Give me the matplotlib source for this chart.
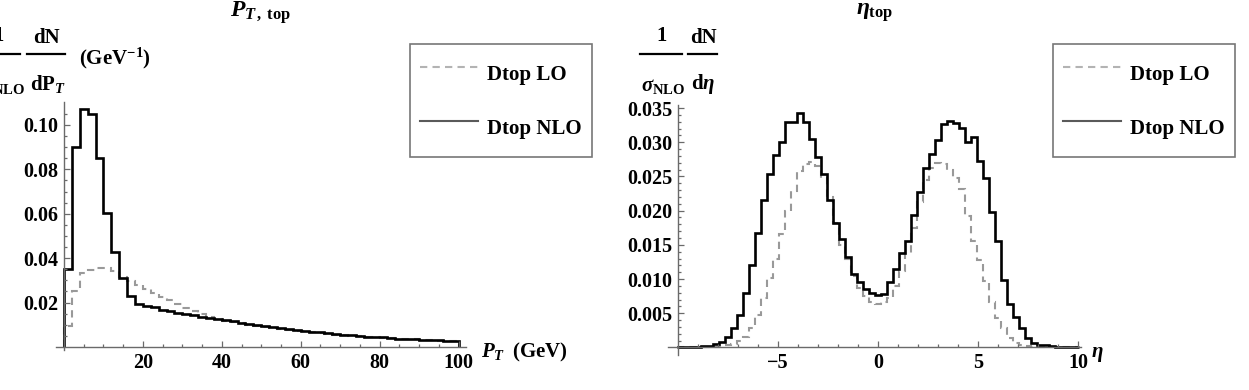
import matplotlib
matplotlib.use('Agg')
import matplotlib.pyplot as plt
import numpy as np
from matplotlib.lines import Line2D
from matplotlib.ticker import FixedLocator

plt.rcParams['font.family'] = ['Liberation Serif', 'DejaVu Serif']
plt.rcParams['font.weight'] = 'bold'
plt.rcParams['mathtext.fontset'] = 'custom'
plt.rcParams['mathtext.rm'] = 'Liberation Serif:bold'
plt.rcParams['mathtext.it'] = 'Liberation Serif:bold:italic'
plt.rcParams['mathtext.bf'] = 'Liberation Serif:bold'

# transverse momentum of the top, 2 GeV bins from 0 to 100 GeV
PT_BIN_WIDTH = 2.0
pt_lo = [0.0095, 0.025, 0.0335, 0.0345, 0.0358, 0.0355, 0.034, 0.0315, 0.0295, 0.028,
         0.026, 0.0245, 0.0225, 0.021, 0.0195, 0.0175, 0.016, 0.0148, 0.0135, 0.0125,
         0.0118, 0.0112, 0.0106, 0.0100, 0.0095, 0.0090, 0.0086, 0.0082, 0.0078, 0.0074,
         0.0070, 0.0066, 0.0063, 0.0060, 0.0056, 0.0053, 0.0050, 0.0048, 0.0045, 0.0043,
         0.0041, 0.0039, 0.0037, 0.0035, 0.0034, 0.0032, 0.0031, 0.0029, 0.0027, 0.0025]
pt_nlo = [0.035, 0.090, 0.107, 0.105, 0.085, 0.0605, 0.043, 0.031, 0.0228, 0.0195,
          0.0185, 0.018, 0.0165, 0.0163, 0.0155, 0.0148, 0.0142, 0.0136, 0.013, 0.0125,
          0.012, 0.0115, 0.011, 0.0105, 0.0098, 0.0094, 0.0090, 0.0086, 0.0080, 0.0076,
          0.0072, 0.0068, 0.0066, 0.0063, 0.0058, 0.0055, 0.0052, 0.0049, 0.0046, 0.0044,
          0.0043, 0.0040, 0.0038, 0.0037, 0.0035, 0.0033, 0.0032, 0.0030, 0.0026, 0.0026]

# pseudorapidity of the top, 0.3 wide bins starting at -10.05
ETA_FIRST_EDGE = -10.05
ETA_BIN_WIDTH = 0.3
eta_lo = [0.0, 0.0, 0.00001, 0.00002, 0.00003, 0.00005, 0.00008, 0.00015, 0.0003, 0.0005,
          0.0009, 0.0016, 0.0028, 0.0048, 0.0072, 0.0101, 0.0130, 0.0166, 0.0199, 0.0228,
          0.0258, 0.0268, 0.0271, 0.0265, 0.0248, 0.0220, 0.0182, 0.0150, 0.0129, 0.0105,
          0.0087, 0.0075, 0.0066, 0.0064, 0.0066, 0.0072, 0.0090, 0.0112, 0.0138, 0.0175,
          0.0212, 0.0245, 0.0262, 0.0270, 0.0268, 0.0260, 0.0248, 0.0232, 0.0192, 0.0155,
          0.0128, 0.0097, 0.0066, 0.0043, 0.0028, 0.0014, 0.0007, 0.0003, 0.00015, 0.0001,
          0.00006, 0.00004, 0.00002, 0.00001, 0.0, 0.0, 0.0]
eta_nlo = [0.00003, 0.00005, 0.00008, 0.00012, 0.00018, 0.00028, 0.00045, 0.0008, 0.0016, 0.0028,
           0.0048, 0.0080, 0.0120, 0.0167, 0.0215, 0.0254, 0.0282, 0.0301, 0.0329, 0.0330,
           0.0343, 0.0330, 0.0305, 0.0278, 0.0254, 0.0216, 0.0182, 0.0158, 0.0132, 0.0107,
           0.0095, 0.0086, 0.0080, 0.0077, 0.0078, 0.0095, 0.0114, 0.0138, 0.0155, 0.0193,
           0.0227, 0.0263, 0.0283, 0.0304, 0.0326, 0.0331, 0.0328, 0.0321, 0.0301, 0.0307,
           0.0273, 0.0248, 0.0198, 0.0156, 0.0099, 0.0064, 0.0044, 0.0028, 0.0014, 0.0007,
           0.0004, 0.0003, 0.0002, 0.00012, 0.00008, 0.00005, 0.00003]

pt_ticks = [20, 40, 60, 80, 100]
pt_tick_labels = ['20', '40', '60', '80', '100']
pt_yticks = [0.02, 0.04, 0.06, 0.08, 0.10]
pt_ytick_labels = ['0.02', '0.04', '0.06', '0.08', '0.10']
eta_ticks = [-5, 0, 5, 10]
eta_tick_labels = ['\u22125', '0', '5', '10']
eta_yticks = [0.005, 0.010, 0.015, 0.020, 0.025, 0.030, 0.035]
eta_ytick_labels = ['0.005', '0.010', '0.015', '0.020', '0.025', '0.030', '0.035']
legend_labels = ['Dtop LO', 'Dtop NLO']

W, H = 1249, 390
fig = plt.figure(figsize=(W / 100, H / 100), dpi=100)


def px_axes(left, top, width, height):
    return fig.add_axes([left / W, 1 - (top + height) / H, width / W, height / H])


def style_axes(ax, x0, y0):
    for side in ['top', 'right']:
        ax.spines[side].set_visible(False)
    ax.spines['left'].set_position(('data', x0))
    ax.spines['bottom'].set_position(('data', y0))
    for side in ['left', 'bottom']:
        ax.spines[side].set_color('#6a6a6a')
        ax.spines[side].set_linewidth(1.0)
    ax.tick_params(which='both', direction='in', color='#6a6a6a', width=0.9,
                   labelsize=14.5, pad=4)
    ax.tick_params(which='major', length=4.5)
    ax.tick_params(which='minor', length=2.2)
    ax.patch.set_visible(False)


def add_legend(ax, left, top):
    handles = [Line2D([], [], color='#b3b3b3', lw=1.5, ls=(0, (3.5, 2.5))),
               Line2D([], [], color='#5a5a5a', lw=1.5)]
    leg = ax.legend(handles, legend_labels, loc='upper left',
                    bbox_to_anchor=(left / W, 1 - top / H), bbox_transform=fig.transFigure,
                    fontsize=15, frameon=True, fancybox=False, borderpad=0.5,
                    handlelength=2.75, handletextpad=0.45, handleheight=2.5,
                    labelspacing=0.7, borderaxespad=0)
    leg.get_frame().set_edgecolor('#555555')
    leg.get_frame().set_linewidth(1.2)


# left panel: P_T
ax1 = px_axes(56.1, 101.9, 410.3, 248.4)
pt_edges = np.arange(len(pt_nlo) + 1) * PT_BIN_WIDTH
ax1.stairs(pt_lo, pt_edges, baseline=0, color='#999999', lw=1.5, ls=(0, (3.5, 2.5)))
ax1.stairs(pt_nlo, pt_edges, baseline=0, color='black', lw=1.9)
ax1.set_xlim(-2, 102)
ax1.set_ylim(-0.0015, 0.1104)
style_axes(ax1, 0, 0)
ax1.xaxis.set_major_locator(FixedLocator(pt_ticks))
ax1.set_xticklabels(pt_tick_labels)
ax1.xaxis.set_minor_locator(FixedLocator(np.arange(5, 100, 5)))
ax1.yaxis.set_major_locator(FixedLocator(pt_yticks))
ax1.set_yticklabels(pt_ytick_labels)
ax1.yaxis.set_minor_locator(FixedLocator(np.arange(0.005, 0.11, 0.005)))
add_legend(ax1, 410, 44)

# right panel: eta
ax2 = px_axes(668, 105.3, 413, 249.7)
eta_edges = ETA_FIRST_EDGE + np.arange(len(eta_nlo) + 1) * ETA_BIN_WIDTH
ax2.stairs(eta_lo, eta_edges, baseline=0, color='#999999', lw=1.5, ls=(0, (3.5, 2.5)))
ax2.stairs(eta_nlo, eta_edges, baseline=0, color='black', lw=1.9)
ax2.set_xlim(-10.5, 10.15)
ax2.set_ylim(-0.0011, 0.0354)
style_axes(ax2, -10, 0)
ax2.xaxis.set_major_locator(FixedLocator(eta_ticks))
ax2.set_xticklabels(eta_tick_labels)
ax2.xaxis.set_minor_locator(FixedLocator(np.arange(-9, 10, 1)))
ax2.yaxis.set_major_locator(FixedLocator(eta_yticks))
ax2.set_yticklabels(eta_ytick_labels)
ax2.yaxis.set_minor_locator(FixedLocator(np.arange(0.001, 0.035, 0.001)))
add_legend(ax2, 1053, 44)


def ftext(x, y, s, size=15, **kw):
    fig.text(x / W, 1 - y / H, s, fontsize=size, ha='center', va='center', **kw)


def fbar(x0, x1, y):
    fig.add_artist(Line2D([x0 / W, x1 / W], [1 - y / H, 1 - y / H], color='black', lw=1.6))


# titles
ftext(261, 13, r'$P_{T\,\mathrm{,\;top}}$', size=17)
ftext(875, 13, r'$\eta_{\mathrm{top}}$', size=17)

# left y label (cut at the left edge, as in the original)
ftext(-1, 36, '1')
fbar(-22, 20, 54)
ftext(46, 38, 'dN')
fbar(27, 65, 54)
ftext(115, 58, r'$(\mathrm{GeV}^{-1})$', size=15)
ftext(3, 86, r'$\sigma_{\mathrm{NLO}}$')
ftext(48, 84, r'$\mathrm{dP}_{T}$')

# right y label
ftext(662, 36, '1')
fbar(640, 682, 54)
ftext(703, 38, 'dN')
fbar(688, 717, 54)
ftext(663, 86, r'$\sigma_{\mathrm{NLO}}$')
ftext(703, 84, r'$\mathrm{d}\eta$')

# x labels
ftext(524, 352, r'$P_{T}\;\;(\mathrm{GeV})$', size=15)
ftext(1097, 354, r'$\eta$', size=15)

fig.savefig('out.png', dpi=100)
